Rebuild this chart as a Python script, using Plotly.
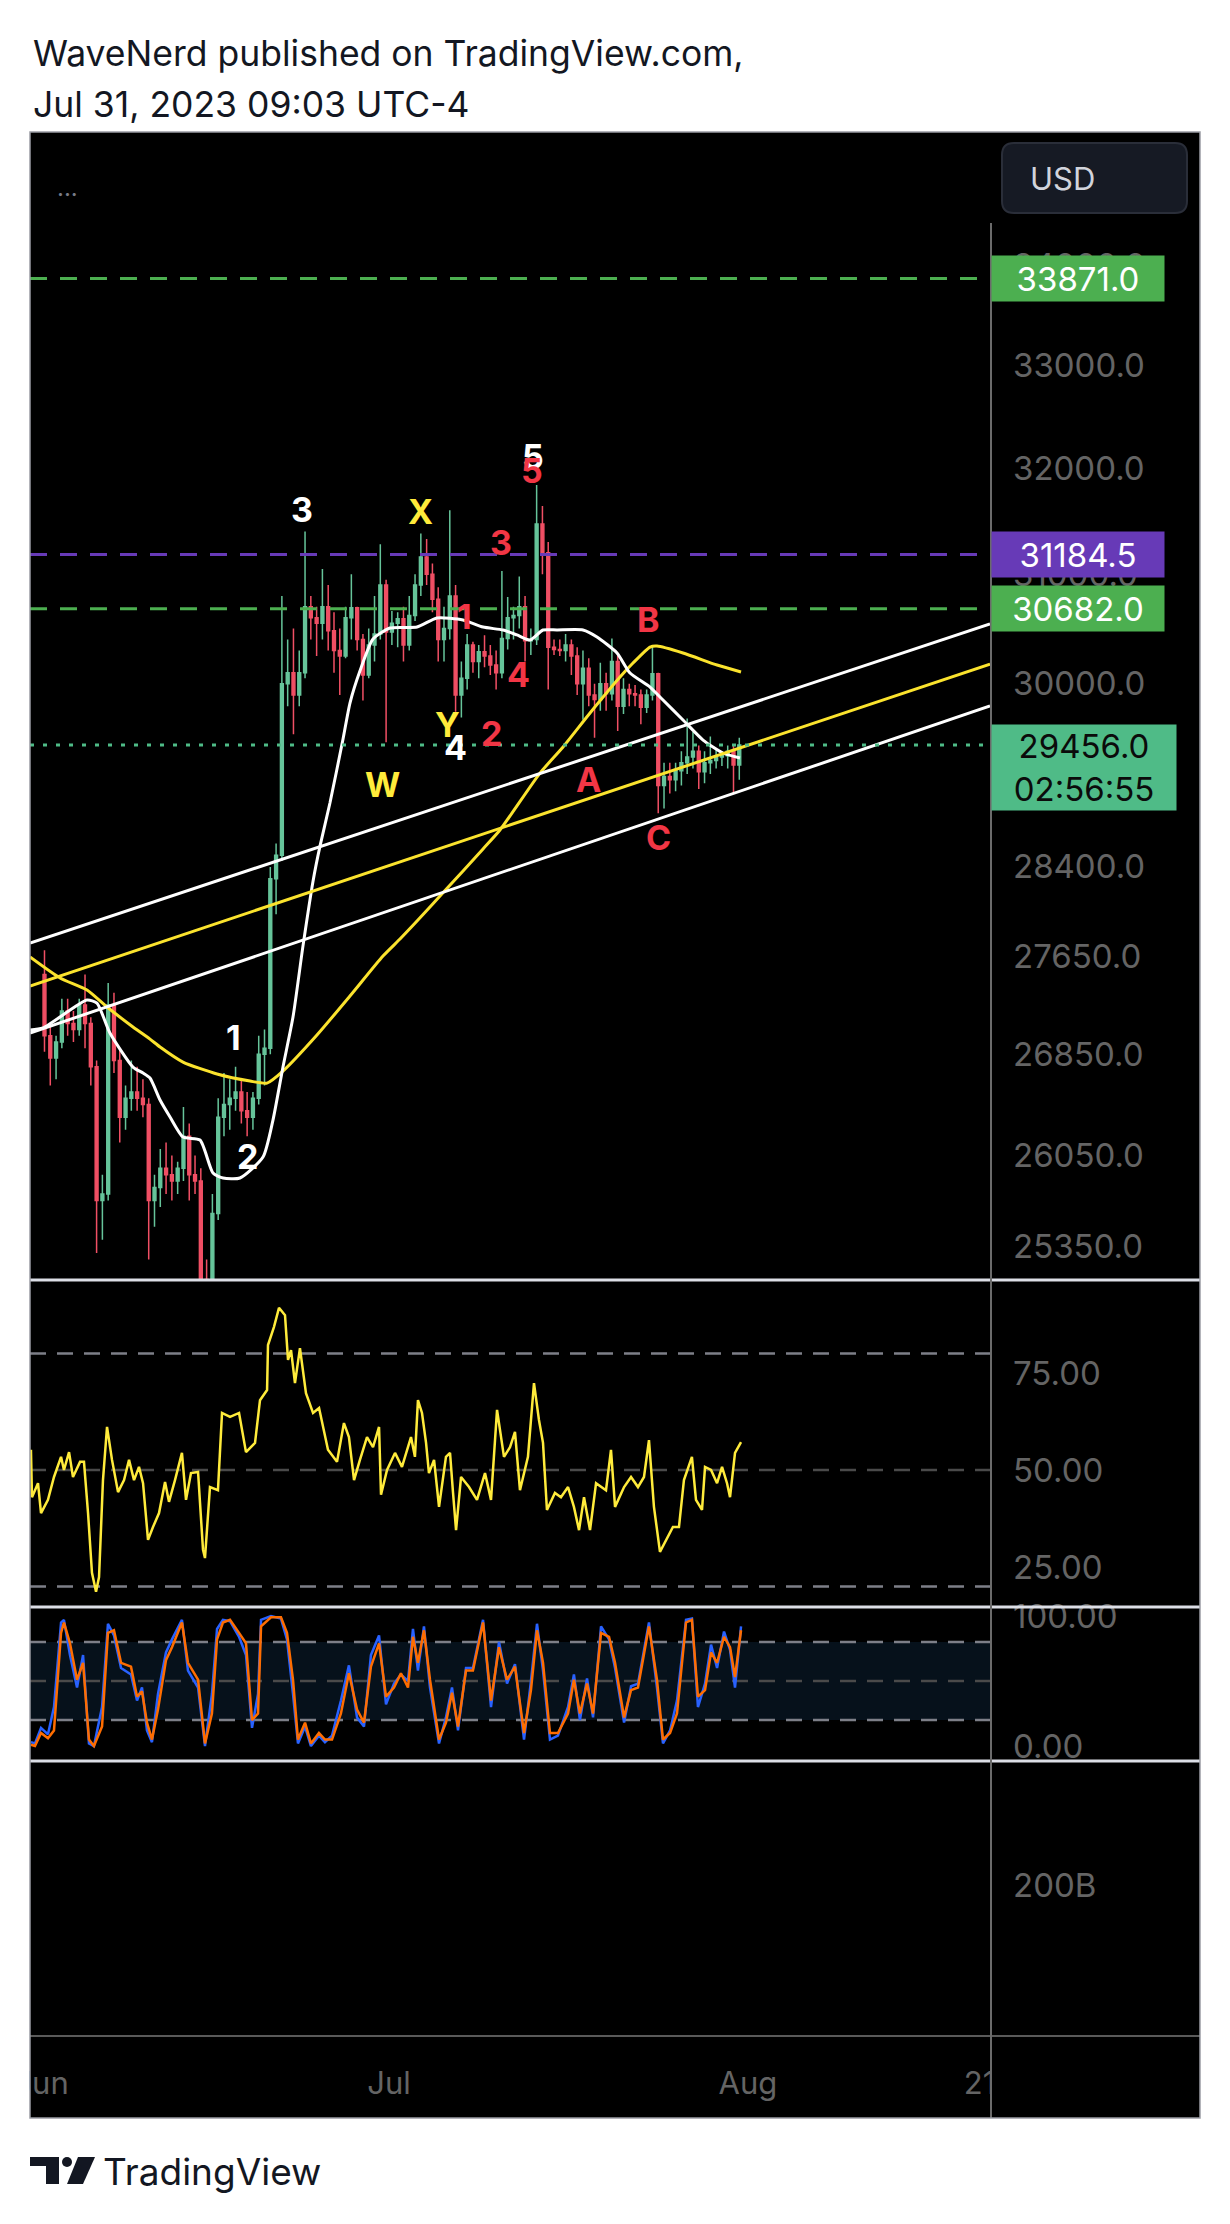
import math
import pandas as pd
import plotly.graph_objects as go

W, H = 1230, 2224
T0 = pd.Timestamp("2023-06-01 00:00")

# ---------------- data ----------------
# 12-hour candles starting 2023-06-01 00:00 (UTC-4)
candle_open = [27500, 27000, 26820, 26950, 27200, 27100, 27050, 27250, 27100, 26750,
               25700, 25750, 27250, 26800, 26350, 26500, 26550, 26500, 26450, 25700,
               25800, 25950, 25900, 25850, 25950, 26200, 25900, 25850, 25100, 25050,
               25600, 26350, 26450, 26500, 26550, 26400, 26350, 26500, 26850, 26900,
               28300, 28500, 30000, 30100, 29900, 30100, 30700, 30600, 30550, 30700,
               30480, 30300, 30250, 30600, 30690, 30400, 30080, 30350, 30450, 30900,
               30470, 30550, 30590, 30350, 30620, 30900, 31160, 31000, 30770, 30400,
               30500, 30800, 29900, 30050, 30350, 30200, 30290, 30250, 30170, 30100,
               30410, 30600, 30620, 30700, 30390, 30400, 31470, 31200, 30330, 30310,
               30300, 30350, 30250, 30000, 30140, 29900, 29860, 30000, 29910, 30200,
               29800, 29950, 29910, 29900, 29790, 29900, 30090, 29100, 29180, 29150,
               29230, 29300, 29350, 29400, 29220, 29300, 29320, 29350, 29360, 29400,
               29280]
candle_high = [27700, 27100, 27000, 27300, 27300, 27200, 27300, 27500, 27150, 26800,
               25900, 27430, 27350, 26900, 26600, 26800, 26750, 26650, 26500, 25900,
               26100, 26150, 26050, 26000, 26430, 26300, 26050, 25950, 25250, 25750,
               26500, 26700, 26650, 26750, 26650, 26550, 26550, 27000, 27050, 28400,
               28600, 30800, 30400, 30500, 30300, 31400, 30800, 30700, 31050, 30900,
               30650, 30500, 30700, 31000, 30700, 30450, 30500, 30800, 31280, 30950,
               30660, 30650, 30700, 30800, 31000, 31380, 31330, 31100, 30880, 30700,
               31600, 30900, 30200, 30450, 30380, 30350, 30440, 30350, 30300, 31030,
               30790, 30700, 30980, 30800, 30500, 31840, 31640, 31300, 30400, 30400,
               30450, 30400, 30330, 30300, 30230, 30000, 30190, 30100, 30410, 30250,
               30050, 30000, 29990, 29950, 29950, 30340, 30100, 29300, 29300, 29300,
               29400, 29690, 29570, 29450, 29400, 29530, 29420, 29400, 29450, 29450,
               29520]
candle_low = [26870, 26600, 26650, 26900, 27000, 26950, 27000, 26900, 26600, 25300,
              25400, 25700, 26700, 26150, 26250, 26400, 26400, 26350, 25250, 25500,
              25650, 25750, 25700, 25750, 25850, 25700, 25750, 24800, 24750, 24950,
              25550, 26200, 26250, 26400, 26300, 26200, 26250, 26450, 26600, 26850,
              28000, 28450, 29800, 29550, 29800, 30050, 30400, 30250, 30400, 30300,
              30100, 29900, 30230, 30400, 30300, 29850, 30050, 30200, 30400, 29480,
              30350, 30330, 30200, 30300, 30570, 30800, 30900, 30650, 30200, 30200,
              30400, 29750, 29700, 29950, 30100, 30050, 30150, 30080, 29950, 30050,
              30310, 30400, 30500, 30200, 30260, 30350, 31000, 29950, 30260, 30250,
              30200, 30080, 29900, 29680, 29800, 29520, 29760, 29760, 29850, 29580,
              29730, 29800, 29800, 29640, 29740, 29850, 28860, 28900, 29030, 29050,
              29100, 29200, 29250, 29070, 29120, 29200, 29250, 29270, 29250, 29030,
              29150]
candle_close = [27000, 26820, 26950, 27200, 27100, 27050, 27250, 27100, 26750, 25700,
                25750, 27250, 26800, 26350, 26500, 26550, 26500, 26450, 25700, 25800,
                25950, 25900, 25850, 25950, 26200, 25900, 25850, 25100, 25050, 25600,
                26350, 26450, 26500, 26550, 26400, 26350, 26500, 26850, 26900, 28300,
                28500, 30000, 30100, 29900, 30100, 30700, 30600, 30550, 30700, 30480,
                30300, 30250, 30600, 30690, 30400, 30080, 30350, 30450, 30900, 30470,
                30550, 30590, 30350, 30620, 30900, 31160, 31000, 30770, 30400, 30500,
                30800, 29900, 30050, 30350, 30200, 30290, 30250, 30170, 30100, 30410,
                30600, 30620, 30700, 30390, 30400, 31470, 31200, 30330, 30310, 30300,
                30350, 30250, 30000, 30140, 29900, 29860, 30000, 29910, 30200, 29800,
                29950, 29910, 29900, 29790, 29900, 30090, 29100, 29180, 29150, 29230,
                29300, 29350, 29400, 29220, 29300, 29320, 29350, 29360, 29400, 29280,
                29456]

# moving averages (days since Jun 1, price)
white_ma_day = [-1.0, 0.12, 3.92, 4.78, 5.90, 7.89, 8.76, 9.36, 10.23, 11.09,
                12.21, 13.68, 14.80, 15.67, 17.13, 19.12, 19.98, 20.84, 21.71, 22.57,
                23.44, 24.04, 24.90, 26.03, 26.63, 27.49, 28.62, 30.08, 32.42, 34.14,
                36.39, 38.12, 39.85, 41.05, 42.17, 43.30, 44.51, 46.75, 47.96, 49.69,
                50.81, 52.54, 53.66, 55.39, 57.12, 58.84, 60.31]
white_ma = [27046, 27063, 27290, 27265, 27022, 26748, 26700, 26660, 26485, 26351,
            26193, 26170, 25913, 25874, 25874, 26037, 26327, 26747, 27151, 27734,
            28279, 28577, 28948, 29508, 29828, 30115, 30405, 30505, 30514, 30597,
            30579, 30514, 30487, 30442, 30396, 30487, 30487, 30487, 30423, 30278,
            30097, 29971, 29855, 29677, 29499, 29385, 29341]
yellow_ma_day = [-1.0, 1.59, 3.92, 5.65, 7.89, 9.36, 10.23, 12.21, 15.15, 18.0,
                 19.46, 20.84, 23.78, 26.63, 29.48, 30.95, 32.42, 34.66, 38.12, 39.58,
                 43.04, 45.03, 47.36, 49.95, 51.07, 52.54, 53.14, 55.39, 58.33, 60.40]
yellow_ma = [27644, 27471, 27372, 27233, 27071, 26973, 26909, 26788, 26692, 26636,
             26620, 26716, 27006, 27323, 27652, 27793, 27943, 28180, 28553, 28715,
             29209, 29438, 29739, 30061, 30187, 30332, 30341, 30278, 30169, 30106]

# parallel channel (two anchor points each)
channel_day = [-1.0, 81.9]
channel_upper = [27760, 30542]
channel_mid = [27405, 30178]
channel_lower = [27022, 29801]

# horizontal levels
level_values = [33871.0, 31184.5, 30682.0]
last_price = 29456.0
countdown = "02:56:55"

# RSI
rsi_day = [-0.92, -0.83, -0.31, -0.05, 0.55, 1.07, 1.68, 1.93, 2.37, 2.71,
           3.32, 3.66, 4.01, 4.35, 4.70, 4.96, 5.30, 5.65, 6.08, 6.60,
           7.12, 7.55, 7.98, 8.41, 8.76, 9.19, 9.62, 10.14, 10.66, 11.00,
           11.52, 12.12, 12.47, 12.90, 13.51, 13.94, 14.11, 14.54, 15.23, 15.58,
           16.27, 17.05, 17.65, 18.43, 18.86, 19.47, 19.55, 20.07, 20.50, 21.02,
           21.28, 21.54, 21.88, 22.31, 22.83, 23.44, 23.96, 24.73, 25.51, 26.11,
           26.54, 26.98, 27.49, 28.10, 28.62, 29.14, 29.31, 29.83, 30.52, 31.12,
           31.90, 32.24, 32.50, 32.85, 33.20, 33.45, 33.89, 34.32, 34.92, 35.27,
           35.53, 35.79, 36.22, 36.91, 37.60, 38.29, 38.81, 39.33, 39.93, 40.45,
           40.88, 41.31, 42.00, 42.52, 42.95, 43.30, 43.64, 44.33, 44.85, 45.46,
           45.97, 46.41, 46.84, 47.36, 47.88, 48.74, 49.17, 49.52, 50.30, 50.90,
           51.50, 52.02, 52.45, 52.88, 53.40, 53.92, 54.52, 55.04, 55.47, 56.16,
           56.51, 57.03, 57.29, 57.81, 58.33, 58.76, 59.19, 59.45, 59.88, 60.40]
rsi = [55.2, 43.0, 46.6, 38.9, 42.3, 48.2, 53.4, 50.0, 54.6, 48.2,
       52.1, 52.1, 38.9, 23.5, 18.6, 22.4, 47.4, 61.1, 52.6, 44.3,
       47.4, 52.6, 47.4, 50.8, 46.6, 32.0, 35.3, 38.9, 46.9, 41.8,
       47.4, 54.4, 42.3, 49.2, 49.5, 29.4, 27.3, 45.6, 44.8, 64.7,
       63.7, 64.7, 54.6, 57.0, 68.0, 70.6, 82.2, 86.9, 91.8, 89.9,
       78.4, 80.9, 72.4, 81.4, 69.8, 64.7, 66.0, 55.2, 52.1, 62.1,
       58.5, 47.4, 52.6, 58.5, 55.9, 61.1, 43.6, 50.0, 54.4, 50.8,
       58.5, 53.4, 68.0, 64.7, 57.0, 49.2, 52.6, 40.5, 53.4, 54.4,
       44.1, 34.5, 48.2, 45.6, 42.3, 49.2, 42.3, 65.5, 53.4, 55.9,
       59.8, 44.8, 53.4, 72.4, 62.9, 57.0, 39.7, 44.1, 43.0, 45.6,
       40.5, 34.5, 43.0, 34.5, 46.6, 44.8, 55.2, 40.5, 45.6, 48.2,
       45.6, 48.2, 57.7, 40.5, 28.9, 32.0, 35.3, 35.3, 47.4, 53.4,
       42.3, 39.7, 50.8, 50.0, 46.6, 50.8, 46.6, 43.0, 54.4, 57.2]

# Stochastic RSI
stoch_day = [-0.92, -0.57, -0.05, 0.55, 1.07, 1.68, 1.93, 2.45, 3.06, 3.58,
             4.09, 4.52, 5.22, 5.73, 6.25, 6.86, 7.72, 8.24, 8.67, 9.10,
             9.53, 10.05, 10.74, 11.26, 12.12, 12.64, 13.51, 14.11, 14.71, 15.15,
             15.66, 16.27, 17.05, 17.65, 18.17, 18.69, 18.95, 19.81, 20.67, 21.19,
             21.71, 22.14, 22.75, 23.26, 23.95, 24.47, 25.08, 25.85, 26.54, 27.24,
             27.84, 28.44, 29.14, 29.74, 30.43, 31.03, 31.64, 32.07, 32.50, 33.02,
             33.54, 34.32, 34.92, 35.44, 35.96, 36.65, 37.25, 38.12, 38.81, 39.50,
             40.19, 40.88, 41.66, 42.26, 42.78, 43.30, 43.90, 44.59, 45.46, 45.97,
             46.49, 47.10, 47.62, 48.31, 49.00, 49.52, 50.30, 50.90, 51.50, 52.45,
             53.14, 53.66, 54.27, 54.87, 55.65, 56.16, 56.68, 57.29, 57.81, 58.33,
             58.93, 59.45, 59.88, 60.40]
stoch_k = [3, 2, 14, 9, 30, 95, 97, 70, 45, 70,
           2, 0, 30, 94, 85, 60, 55, 35, 45, 12,
           3, 40, 72, 82, 97, 58, 45, 0, 40, 90,
           97, 96, 84, 70, 14, 40, 97, 100, 98, 82,
           40, 2, 15, 0, 8, 3, 8, 35, 62, 22,
           15, 70, 85, 32, 48, 55, 50, 90, 58, 92,
           45, 2, 22, 45, 12, 60, 60, 97, 30, 80,
           48, 63, 5, 50, 94, 58, 5, 8, 30, 55,
           20, 52, 22, 92, 82, 60, 18, 46, 48, 95,
           45, 2, 12, 35, 97, 98, 30, 48, 78, 60,
           88, 74, 45, 92]
stoch_d = [1, 0, 10, 6, 12, 87, 95, 79, 51, 64,
           5, 0, 15, 87, 89, 64, 61, 38, 42, 18,
           5, 28, 66, 76, 95, 64, 51, 2, 25, 82,
           95, 97, 87, 79, 20, 25, 92, 99, 99, 87,
           51, 5, 18, 2, 10, 5, 5, 25, 56, 28,
           18, 61, 79, 38, 45, 56, 45, 84, 64, 89,
           51, 5, 18, 41, 15, 58, 58, 95, 35, 76,
           51, 61, 10, 43, 89, 64, 10, 10, 25, 51,
           25, 48, 25, 87, 84, 64, 22, 43, 45, 92,
           51, 5, 10, 25, 95, 97, 38, 43, 72, 64,
           84, 76, 53, 89]

# Elliott wave labels
wave_text = ["1", "2", "3", "4", "5", "W", "X", "Y", "1", "2", "3", "4", "5", "A", "B", "C"]
wave_group = ["white"] * 5 + ["yellow"] * 3 + ["red"] * 8
wave_day = [16.53, 17.74, 22.49, 35.70, 42.44, 29.48, 32.68, 35.09,
            36.56, 38.89, 39.67, 41.14, 42.35, 47.27, 52.37, 53.23]
wave_price = [26988, 26043, 31611, 29429, 32108, 29105, 31592, 29640,
              30615, 29561, 31301, 30088, 31983, 29157, 30579, 28654]

# axis ticks
price_ticks = [25350, 26050, 26850, 27650, 28400, 30000, 31000, 32000, 33000, 34000]
rsi_ticks = [25, 50, 75]
rsi_levels = [80, 50, 20]
stoch_ticks = [0, 100]
stoch_levels = [80, 50, 20]
volume_ticks = [200]
volume_labels = ["200B"]
month_ticks = ["2023-06-01", "2023-07-01", "2023-08-01", "2023-08-21"]
month_labels = ["Jun", "Jul", "Aug", "21"]

# ---------------- helpers ----------------
def px(x):
    return x / W

def py(y):
    return 1 - y / H

def to_time(days):
    return [T0 + pd.Timedelta(days=float(d)) for d in days]

X0 = T0 + pd.Timedelta(days=-1.0017)
X1 = T0 + pd.Timedelta(days=81.9)

FONT = "Inter, Roboto, Arial, sans-serif"
AX_COL = "#646464"
GREEN = "#4caf50"
PURPLE = "#673ab7"
LAST = "#4fbb87"
YEL = "#fbe32d"
WAVE_COL = {"white": "#ffffff", "yellow": "#ffeb3b", "red": "#f23645"}

fig = go.Figure()

# candles
cx = [T0 + pd.Timedelta(hours=12 * i + 6) for i in range(len(candle_close))]
fig.add_trace(go.Candlestick(
    x=cx, open=candle_open, high=candle_high, low=candle_low, close=candle_close,
    xaxis="x", yaxis="y",
    increasing=dict(line=dict(color="#66c49a", width=1.5), fillcolor="#66c49a"),
    decreasing=dict(line=dict(color="#f04f64", width=1.5), fillcolor="#f04f64"),
    whiskerwidth=0, hoverinfo="skip", showlegend=False))

# moving averages
fig.add_trace(go.Scatter(x=to_time(yellow_ma_day), y=yellow_ma, mode="lines",
                         line=dict(color=YEL, width=3, shape="spline", smoothing=0.6),
                         xaxis="x", yaxis="y", hoverinfo="skip"))
fig.add_trace(go.Scatter(x=to_time(white_ma_day), y=white_ma, mode="lines",
                         line=dict(color="#ffffff", width=3, shape="spline", smoothing=0.6),
                         xaxis="x", yaxis="y", hoverinfo="skip"))

# channel
for vals, col in [(channel_upper, "#ffffff"), (channel_mid, YEL), (channel_lower, "#ffffff")]:
    fig.add_trace(go.Scatter(x=to_time(channel_day), y=vals, mode="lines",
                             line=dict(color=col, width=3), xaxis="x", yaxis="y",
                             hoverinfo="skip"))

# horizontal levels
level_styles = [(GREEN, "17px,13px"), (PURPLE, "17px,13px"), (GREEN, "17px,13px")]
for val, (col, dash) in zip(level_values, level_styles):
    fig.add_trace(go.Scatter(x=[X0, X1], y=[val, val], mode="lines",
                             line=dict(color=col, width=3, dash=dash),
                             xaxis="x", yaxis="y", hoverinfo="skip"))
fig.add_trace(go.Scatter(x=[X0, X1], y=[last_price, last_price], mode="lines",
                         line=dict(color=LAST, width=3, dash="4px,9px"),
                         xaxis="x", yaxis="y", hoverinfo="skip"))

# RSI
fig.add_trace(go.Scatter(x=to_time(rsi_day), y=rsi, mode="lines",
                         line=dict(color="#ffeb3b", width=2.5), xaxis="x", yaxis="y2",
                         hoverinfo="skip"))
# Stoch RSI
fig.add_trace(go.Scatter(x=to_time(stoch_day), y=stoch_k, mode="lines",
                         line=dict(color="#2962ff", width=2.5), xaxis="x", yaxis="y3",
                         hoverinfo="skip"))
fig.add_trace(go.Scatter(x=to_time(stoch_day), y=stoch_d, mode="lines",
                         line=dict(color="#ff6d00", width=2.5), xaxis="x", yaxis="y3",
                         hoverinfo="skip"))
# (empty volume pane)
fig.add_trace(go.Scatter(x=[], y=[], xaxis="x", yaxis="y4", hoverinfo="skip"))

tickfont = dict(family=FONT, size=33, color=AX_COL)
common_y = dict(side="right", anchor="x", showgrid=False, zeroline=False, showline=False,
                ticks="", tickfont=tickfont, tickmode="array", ticklabelstandoff=22,
                fixedrange=True, automargin=False)

fig.update_layout(
    width=W, height=H, margin=dict(l=0, r=0, t=0, b=0, pad=0, autoexpand=False),
    paper_bgcolor="#ffffff", plot_bgcolor="#000000", showlegend=False,
    xaxis=dict(type="date", domain=[px(30), px(990)], range=[X0, X1],
               anchor="free", position=py(2036), side="bottom",
               tickmode="array", tickvals=month_ticks, ticktext=month_labels,
               showgrid=False, zeroline=False, showline=False, ticks="",
               tickfont=dict(family=FONT, size=31, color=AX_COL), ticklabelstandoff=26,
               automargin=False, rangeslider=dict(visible=False)),
    yaxis=dict(domain=[py(1280), py(132)], type="log",
               range=[math.log10(25096), math.log10(35389)],
               tickvals=price_ticks, ticktext=[f"{v:.1f}" for v in price_ticks], **common_y),
    yaxis2=dict(domain=[py(1607), py(1280)], range=[14.69, 98.97],
                tickvals=rsi_ticks, ticktext=[f"{v:.2f}" for v in rsi_ticks], **common_y),
    yaxis3=dict(domain=[py(1761), py(1607)], range=[-11.5, 106.9],
                tickvals=stoch_ticks, ticktext=[f"{v:.2f}" for v in stoch_ticks], **common_y),
    yaxis4=dict(domain=[py(2036), py(1761)], range=[0, 364.2],
                tickvals=volume_ticks, ticktext=volume_labels, **common_y),
)

shapes = []
# black chart background
shapes.append(dict(type="rect", xref="paper", yref="paper", x0=px(30), x1=px(1200),
                   y0=py(2118), y1=py(132), fillcolor="#000000", line=dict(width=0),
                   layer="below"))
# RSI level lines
for lv in rsi_levels:
    col = "#4a4a4a" if lv == 50 else "#7d7f88"
    shapes.append(dict(type="line", xref="paper", yref="y2", x0=px(30), x1=px(990),
                       y0=lv, y1=lv, line=dict(color=col, width=2.5, dash="16px,11px"),
                       layer="below"))
# Stoch band
shapes.append(dict(type="rect", xref="paper", yref="y3", x0=px(30), x1=px(990),
                   y0=stoch_levels[2], y1=stoch_levels[0], fillcolor="#06111b",
                   line=dict(width=0), layer="below"))
for lv in stoch_levels:
    col = "#4a4a4a" if lv == 50 else "#7d7f88"
    shapes.append(dict(type="line", xref="paper", yref="y3", x0=px(30), x1=px(990),
                       y0=lv, y1=lv, line=dict(color=col, width=2.5, dash="16px,11px"),
                       layer="below"))
# clip covers for the time-axis labels
shapes.append(dict(type="rect", xref="paper", yref="paper", x0=0, x1=px(29.5),
                   y0=py(2117), y1=py(2037), fillcolor="#ffffff", line=dict(width=0),
                   layer="above"))
shapes.append(dict(type="rect", xref="paper", yref="paper", x0=px(991), x1=px(1199),
                   y0=py(2117), y1=py(2037), fillcolor="#000000", line=dict(width=0),
                   layer="above"))
# pane separators
for yy in [1280, 1607, 1761]:
    shapes.append(dict(type="line", xref="paper", yref="paper", x0=px(30), x1=px(1200),
                       y0=py(yy), y1=py(yy), line=dict(color="#dcdee6", width=3),
                       layer="above"))
shapes.append(dict(type="line", xref="paper", yref="paper", x0=px(30), x1=px(1200),
                   y0=py(2036), y1=py(2036), line=dict(color="#5a5a5a", width=2),
                   layer="above"))
# price axis divider
shapes.append(dict(type="line", xref="paper", yref="paper", x0=px(991), x1=px(991),
                   y0=py(223), y1=py(2118), line=dict(color="#6b6b6b", width=2),
                   layer="above"))
# outer border
shapes.append(dict(type="rect", xref="paper", yref="paper", x0=px(30), x1=px(1200),
                   y0=py(2118), y1=py(132), line=dict(color="#9a9ca4", width=1.5),
                   fillcolor="rgba(0,0,0,0)", layer="above"))


def rrect(x0, y0, x1, y1, r):
    rx, ry = r / W, r / H
    a0, a1 = px(x0), px(x1)
    b0, b1 = py(y0), py(y1)
    return (f"M {a0+rx},{b0} L {a1-rx},{b0} Q {a1},{b0} {a1},{b0-ry} "
            f"L {a1},{b1+ry} Q {a1},{b1} {a1-rx},{b1} L {a0+rx},{b1} "
            f"Q {a0},{b1} {a0},{b1+ry} L {a0},{b0-ry} Q {a0},{b0} {a0+rx},{b0} Z")

# USD button
shapes.append(dict(type="path", xref="paper", yref="paper", path=rrect(1002, 143, 1187, 213, 12),
                   fillcolor="#161a24", line=dict(color="#2a2e39", width=2), layer="above"))


def poly(pts):
    return "M " + " L ".join(f"{px(a)},{py(b)}" for a, b in pts) + " Z"

# TradingView logo mark
LOGO = "#131722"
shapes.append(dict(type="path", xref="paper", yref="paper",
                   path=poly([(30, 2157), (59, 2157), (59, 2184), (46, 2184), (46, 2166), (30, 2166)]),
                   fillcolor=LOGO, line=dict(width=0), layer="above"))
shapes.append(dict(type="circle", xref="paper", yref="paper", x0=px(62), x1=px(72),
                   y0=py(2167), y1=py(2157), fillcolor=LOGO, line=dict(width=0), layer="above"))
shapes.append(dict(type="path", xref="paper", yref="paper",
                   path=poly([(78, 2157), (95, 2157), (83, 2184), (67, 2184)]),
                   fillcolor=LOGO, line=dict(width=0), layer="above"))

fig.update_layout(shapes=shapes)

ann = []
# header
ann.append(dict(x=px(31), y=py(53), xref="paper", yref="paper", xanchor="left", yanchor="middle",
                text="WaveNerd published on TradingView.com,", showarrow=False,
                font=dict(family=FONT, size=35.5, color="#131722")))
ann.append(dict(x=px(31), y=py(104), xref="paper", yref="paper", xanchor="left", yanchor="middle",
                text="Jul 31, 2023 09:03 UTC-4", showarrow=False,
                font=dict(family=FONT, size=35.5, color="#131722")))
# footer
ann.append(dict(x=px(101), y=py(2171), xref="paper", yref="paper", xanchor="left", yanchor="middle",
                text="TradingView", showarrow=False,
                font=dict(family=FONT, size=37, color="#131722")))
# USD and menu dots
ann.append(dict(x=px(1028), y=py(178), xref="paper", yref="paper", xanchor="left", yanchor="middle",
                text="USD", showarrow=False, font=dict(family=FONT, size=31, color="#d1d4dc")))
ann.append(dict(x=px(55), y=py(194), xref="paper", yref="paper", xanchor="left", yanchor="middle",
                text="···", showarrow=False, font=dict(family=FONT, size=24, color="#787b86")))

# price labels on the axis
for val, col in zip(level_values, [GREEN, PURPLE, GREEN]):
    ann.append(dict(x=px(991), y=math.log10(val), xref="paper", yref="y", xanchor="left",
                    yanchor="middle", text=f"{val:.1f}", showarrow=False,
                    font=dict(family=FONT, size=33, color="#ffffff"), bgcolor=col,
                    width=172, height=45, borderpad=0, align="center"))
ann.append(dict(x=px(991), y=math.log10(last_price), xref="paper", yref="y", xanchor="left",
                yanchor="top", yshift=21, text=f"{last_price:.1f}<br>{countdown}", showarrow=False,
                font=dict(family=FONT, size=33, color="#0b0b0b"), bgcolor=LAST,
                width=184, height=85, borderpad=0, align="center"))

# Elliott wave labels
for t, g, d, p in zip(wave_text, wave_group, wave_day, wave_price):
    ann.append(dict(x=T0 + pd.Timedelta(days=d), y=math.log10(p), xref="x", yref="y",
                    text=f"<b>{t}</b>", showarrow=False,
                    font=dict(family=FONT, size=34, color=WAVE_COL[g])))

fig.update_layout(annotations=ann)

fig.write_html("out.html", config={"displayModeBar": False, "staticPlot": True},
               post_script="document.body.style.margin='0';")
